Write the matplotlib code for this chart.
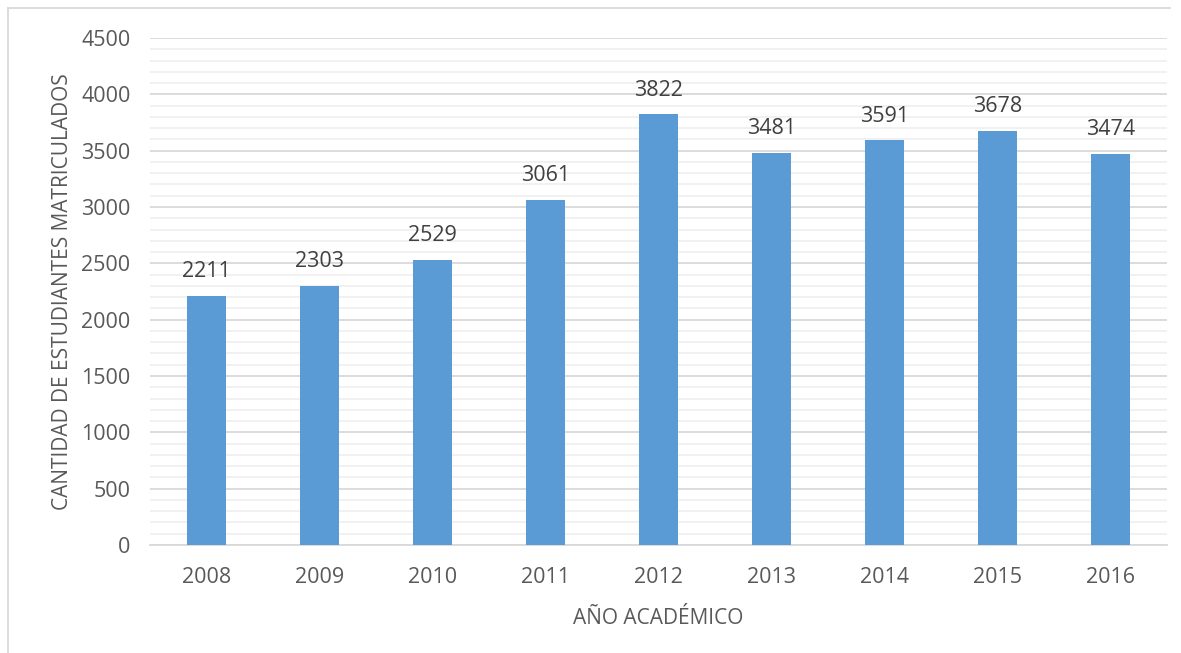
import matplotlib.pyplot as plt
from matplotlib.lines import Line2D
from matplotlib.ticker import MultipleLocator

# Datos
anios = ["2008", "2009", "2010", "2011", "2012", "2013", "2014", "2015", "2016"]
matriculados = [2211, 2303, 2529, 3061, 3822, 3481, 3591, 3678, 3474]

BAR_COLOR = "#5B9BD5"
TEXT_COLOR = "#595959"

plt.rcParams["font.family"] = ["Open Sans", "DejaVu Sans"]

fig = plt.figure(figsize=(11.81, 6.53), dpi=100)
ax = fig.add_axes([150 / 1181, 1 - 545 / 653, 1017 / 1181, 507 / 653])

x = range(len(anios))
bars = ax.bar(x, matriculados, width=0.34, color=BAR_COLOR, zorder=3)

# etiquetas de datos sobre cada barra
for b, v in zip(bars, matriculados):
    ax.text(b.get_x() + b.get_width() / 2, v + 215, str(v),
            ha="center", va="center", fontsize=15.5, color="#404040")

ax.set_xlim(-0.5, len(anios) - 0.5)
ax.set_ylim(0, 4500)
ax.set_xticks(list(x))
ax.set_xticklabels(anios)
ax.yaxis.set_major_locator(MultipleLocator(500))
ax.yaxis.set_minor_locator(MultipleLocator(100))

ax.grid(axis="y", which="major", color="#D9D9D9", linewidth=1.3, zorder=0)
ax.grid(axis="y", which="minor", color="#F0F0F0", linewidth=1.3, zorder=0)

for s in ["top", "right", "left"]:
    ax.spines[s].set_visible(False)
ax.spines["bottom"].set_color("#D9D9D9")
ax.spines["bottom"].set_linewidth(1.3)

ax.tick_params(axis="both", which="both", length=0, labelsize=15.5,
               colors=TEXT_COLOR)
ax.tick_params(axis="x", pad=16)
ax.tick_params(axis="y", pad=14)

ax.set_xlabel("AÑO ACADÉMICO", fontsize=15, color=TEXT_COLOR, labelpad=14)
ax.set_ylabel("CANTIDAD DE ESTUDIANTES MATRICULADOS", fontsize=15,
              color=TEXT_COLOR, labelpad=6)

# Marco del área del gráfico (borde superior e izquierdo visibles)
fig.add_artist(Line2D([8 / 1181, 1170 / 1181], [1 - 8 / 653, 1 - 8 / 653],
                      transform=fig.transFigure, color="#D9D9D9", linewidth=1.3))
fig.add_artist(Line2D([8 / 1181, 8 / 1181], [1 - 8 / 653, 0],
                      transform=fig.transFigure, color="#D9D9D9", linewidth=1.3))

fig.savefig("out.png", dpi=100)
